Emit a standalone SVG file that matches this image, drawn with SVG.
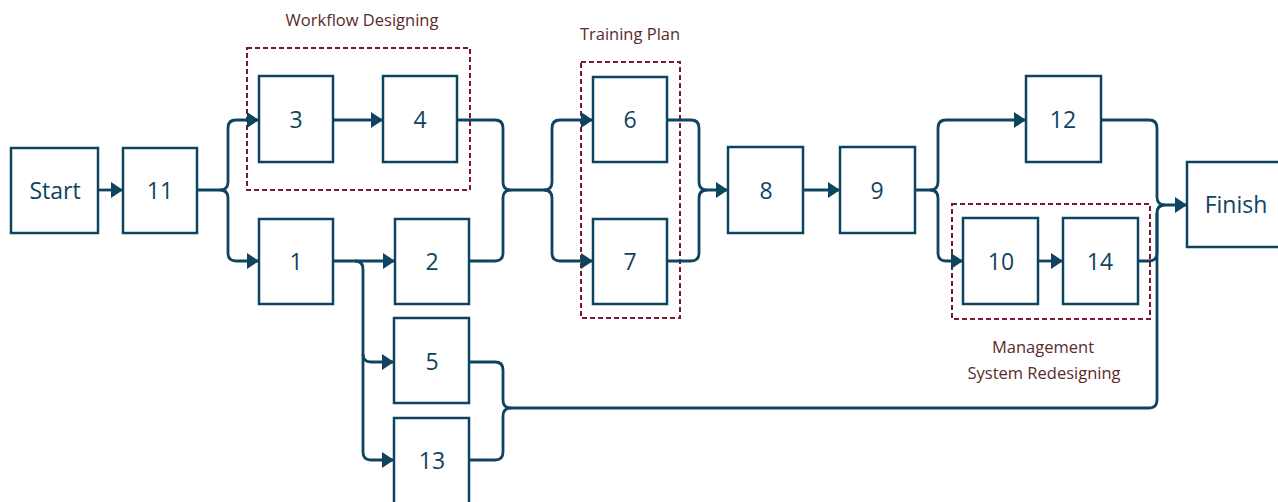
<svg xmlns="http://www.w3.org/2000/svg" width="1278" height="502" viewBox="0 0 1278 502">
<style>
.node rect{fill:#ffffff;stroke:#0f4461;stroke-width:2.5}
.node text{font-family:"Open Sans","Noto Sans","DejaVu Sans",sans-serif;font-size:23px;fill:#0f4461;text-anchor:middle;dominant-baseline:central}
.conn path{fill:none;stroke:#0f4461;stroke-width:2.8}
.grp rect{fill:none;stroke:#7b1a2c;stroke-width:2;stroke-dasharray:5 3}
.lbl{font-family:"Open Sans","Noto Sans","DejaVu Sans",sans-serif;font-size:16.5px;fill:#5c2a2a;text-anchor:middle}
</style>
<defs>
<marker id="arr" markerUnits="userSpaceOnUse" markerWidth="13" markerHeight="16" refX="12" refY="8" orient="auto">
<path d="M0,0 L12,8 L0,16 z" fill="#0f4461"/>
</marker>
</defs>
<rect width="1278" height="502" fill="#ffffff"/>

<g id="groups" class="grp">
<rect x="247" y="48" width="223" height="142"/>
<rect x="581" y="62" width="99" height="256"/>
<rect x="952" y="204" width="198" height="115"/>
</g>
<text class="lbl" x="362" y="26">Workflow Designing</text>
<text class="lbl" x="630" y="40">Training Plan</text>
<text class="lbl" x="1043" y="353">Management</text>
<text class="lbl" x="1044" y="379">System Redesigning</text>

<g id="connectors" class="conn">
<path d="M98,190 H123" marker-end="url(#arr)"/>
<path d="M197,190 H220 Q228,190 228,182 V128 Q228,120 236,120 H259" marker-end="url(#arr)"/>
<path d="M220,190 Q228,190 228,198 V253 Q228,261 236,261 H259" marker-end="url(#arr)"/>
<path d="M333,120 H383" marker-end="url(#arr)"/>
<path d="M333,261 H395" marker-end="url(#arr)"/>
<path d="M355,261 Q363,261 363,269 V354 Q363,362 371,362 H394" marker-end="url(#arr)"/>
<path d="M363,354 V452 Q363,460 371,460 H394" marker-end="url(#arr)"/>
<path d="M457,120 H495 Q503,120 503,128 V182 Q503,190 511,190 H544 Q552,190 552,182 V128 Q552,120 560,120 H593" marker-end="url(#arr)"/>
<path d="M469,261 H495 Q503,261 503,253 V198 Q503,190 511,190"/>
<path d="M544,190 Q552,190 552,198 V253 Q552,261 560,261 H593" marker-end="url(#arr)"/>
<path d="M667,120 H691 Q699,120 699,128 V182 Q699,190 707,190 H728" marker-end="url(#arr)"/>
<path d="M667,261 H691 Q699,261 699,253 V198 Q699,190 707,190"/>
<path d="M803,190 H840" marker-end="url(#arr)"/>
<path d="M915,190 H930 Q938,190 938,182 V128 Q938,120 946,120 H1026" marker-end="url(#arr)"/>
<path d="M930,190 Q938,190 938,198 V253 Q938,261 946,261 H963" marker-end="url(#arr)"/>
<path d="M1038,261 H1063" marker-end="url(#arr)"/>
<path d="M1101,120 H1149 Q1157,120 1157,128 V197 Q1157,205 1165,205 H1187" marker-end="url(#arr)"/>
<path d="M1138,261 H1149 Q1157,261 1157,253 V213 Q1157,205 1165,205"/>
<path d="M469,362 H495 Q503,362 503,370 V400 Q503,408 511,408 H1149 Q1157,408 1157,400 V213"/>
<path d="M469,460 H495 Q503,460 503,452 V416 Q503,408 511,408"/>
</g>

<g id="n-start" class="node"><rect x="11" y="148" width="87" height="85"/><text x="55" y="190">Start</text></g>
<g id="n-11" class="node"><rect x="123" y="148" width="74" height="85"/><text x="160" y="190">11</text></g>
<g id="n-3" class="node"><rect x="259" y="76" width="74" height="86"/><text x="296" y="119">3</text></g>
<g id="n-4" class="node"><rect x="383" y="76" width="74" height="86"/><text x="420" y="119">4</text></g>
<g id="n-1" class="node"><rect x="259" y="219" width="74" height="85"/><text x="296" y="261">1</text></g>
<g id="n-2" class="node"><rect x="395" y="219" width="74" height="85"/><text x="432" y="261">2</text></g>
<g id="n-5" class="node"><rect x="394" y="318" width="75" height="85"/><text x="432" y="361">5</text></g>
<g id="n-13" class="node"><rect x="394" y="418" width="75" height="92"/><text x="432" y="460">13</text></g>
<g id="n-6" class="node"><rect x="593" y="77" width="74" height="85"/><text x="630" y="119">6</text></g>
<g id="n-7" class="node"><rect x="593" y="219" width="74" height="85"/><text x="630" y="261">7</text></g>
<g id="n-8" class="node"><rect x="728" y="147" width="75" height="86"/><text x="766" y="190">8</text></g>
<g id="n-9" class="node"><rect x="840" y="147" width="75" height="86"/><text x="877" y="190">9</text></g>
<g id="n-12" class="node"><rect x="1026" y="76" width="75" height="86"/><text x="1063" y="119">12</text></g>
<g id="n-10" class="node"><rect x="963" y="218" width="75" height="86"/><text x="1001" y="261">10</text></g>
<g id="n-14" class="node"><rect x="1063" y="218" width="75" height="86"/><text x="1100" y="261">14</text></g>
<g id="n-finish" class="node"><rect x="1187" y="162" width="110" height="85"/><text x="1236" y="204">Finish</text></g>
</svg>
